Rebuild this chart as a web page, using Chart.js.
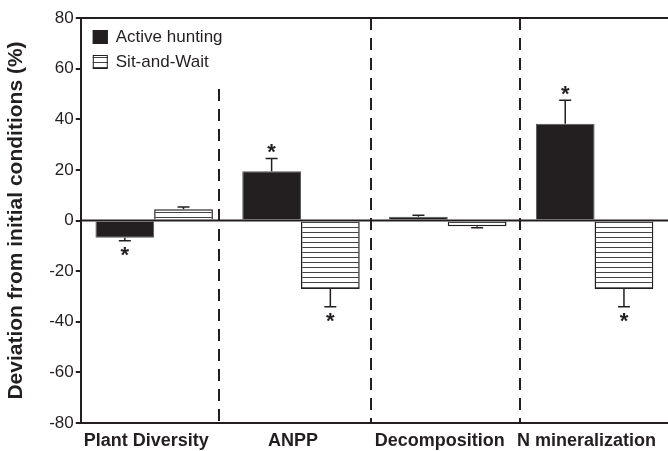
<!DOCTYPE html>
<html>
<head>
<meta charset="utf-8">
<script src="https://cdn.jsdelivr.net/npm/chart.js@4/dist/chart.umd.min.js"></script>
<style>
  body { margin: 0; background: #fff; }
  #wrap { width: 668px; height: 451px; }
</style>
</head>
<body>
<div id="wrap"><canvas id="chart"></canvas></div>
<script>
var categories = ['Plant Diversity', 'ANPP', 'Decomposition', 'N mineralization'];
var activeValues = [-6.8, 19.5, 1.5, 38.2];
var activeErrors = [1.2, 5, 0.6, 9.3];
var activeStars = [true, true, false, true];
var sitValues = [4.4, -27.1, -2.3, -27.1];
var sitErrors = [0.9, 7, 0.6, 7];
var sitStars = [false, true, false, true];
// dashed separators: position on the category axis and the value they start from
var dividerAt = [0.44, 1.48, 2.49];
var dividerTops = [52, 80, 80];
var seriesNames = ['Active hunting', 'Sit-and-Wait'];

var ink = '#231f20';
var font = '"Liberation Sans", Arial, sans-serif';

function hatch() {
  var c = document.createElement('canvas');
  c.width = 8; c.height = 5;
  var g = c.getContext('2d');
  g.fillStyle = '#fff';
  g.fillRect(0, 0, 8, 5);
  g.fillStyle = '#444';
  g.fillRect(0, 2, 8, 1);
  return g.createPattern(c, 'repeat');
}
var hatchFill = hatch();

var extras = {
  id: 'extras',
  beforeDatasetsDraw: function (chart) {
    var ctx = chart.ctx, a = chart.chartArea, x = chart.scales.x, y = chart.scales.y;
    ctx.save();
    ctx.strokeStyle = ink;
    ctx.lineWidth = 2;
    ctx.setLineDash([12, 8]);
    for (var i = 0; i < dividerAt.length; i++) {
      var px = Math.round(x.getPixelForValue(dividerAt[i]));
      ctx.beginPath();
      ctx.moveTo(px, y.getPixelForValue(dividerTops[i]));
      ctx.lineTo(px, a.bottom);
      ctx.stroke();
    }
    ctx.restore();
  },
  afterDatasetsDraw: function (chart) {
    var ctx = chart.ctx, a = chart.chartArea, y = chart.scales.y;
    ctx.save();
    ctx.strokeStyle = ink;
    ctx.lineWidth = 2;
    // top border and zero line
    ctx.beginPath();
    ctx.moveTo(a.left, a.top); ctx.lineTo(a.right, a.top);
    ctx.moveTo(a.left, y.getPixelForValue(0)); ctx.lineTo(a.right, y.getPixelForValue(0));
    ctx.stroke();

    var sets = [[activeValues, activeErrors, activeStars], [sitValues, sitErrors, sitStars]];
    ctx.lineWidth = 1.5;
    ctx.fillStyle = ink;
    ctx.font = 'bold 22px ' + font;
    ctx.textAlign = 'center';
    sets.forEach(function (s, d) {
      var meta = chart.getDatasetMeta(d);
      meta.data.forEach(function (bar, i) {
        var v = s[0][i], e = s[1][i], dir = v >= 0 ? 1 : -1;
        var y0 = y.getPixelForValue(v), y1 = y.getPixelForValue(v + dir * e);
        ctx.beginPath();
        ctx.moveTo(bar.x, y0); ctx.lineTo(bar.x, y1);
        ctx.moveTo(bar.x - 6, y1); ctx.lineTo(bar.x + 6, y1);
        ctx.stroke();
        if (s[2][i]) {
          if (dir > 0) { ctx.textBaseline = 'alphabetic'; ctx.fillText('*', bar.x, y1 + 1); }
          else { ctx.textBaseline = 'top'; ctx.fillText('*', bar.x, y1 + 4); }
        }
      });
    });

    // legend
    ctx.font = '17px ' + font;
    ctx.textAlign = 'left';
    ctx.textBaseline = 'middle';
    ctx.lineWidth = 1;
    chart.data.datasets.forEach(function (ds, i) {
      var bx = a.left + 12, by = a.top + 12 + i * 25;
      ctx.fillStyle = ds.backgroundColor;
      ctx.fillRect(bx, by, 15, 14);
      ctx.strokeStyle = ink;
      ctx.strokeRect(bx + 0.5, by + 0.5, 14, 13);
      ctx.fillStyle = ink;
      ctx.fillText(seriesNames[i], bx + 23, by + 7);
    });
    ctx.restore();
  }
};

new Chart(document.getElementById('chart'), {
  type: 'bar',
  data: {
    labels: categories,
    datasets: [{
      label: seriesNames[0],
      data: activeValues,
      backgroundColor: ink,
      borderColor: '#555',
      borderWidth: 1,
      categoryPercentage: 0.8,
      barPercentage: 1.0
    }, {
      label: seriesNames[1],
      data: sitValues,
      backgroundColor: hatchFill,
      borderColor: ink,
      borderWidth: 1.5,
      categoryPercentage: 0.8,
      barPercentage: 1.0
    }]
  },
  options: {
    responsive: true,
    maintainAspectRatio: false,
    animation: false,
    layout: { padding: { top: 18, right: 0, left: 0, bottom: -1 } },
    plugins: { legend: { display: false }, tooltip: { enabled: false } },
    scales: {
      x: {
        grid: { display: false },
        border: { display: true, color: ink, width: 2 },
        ticks: { color: ink, font: { family: font, size: 18, weight: 'bold', lineHeight: 1 }, maxRotation: 0, autoSkip: false, padding: 1.5, labelOffset: -8 }
      },
      y: {
        min: -80, max: 80,
        grid: { drawOnChartArea: false, drawTicks: true, tickLength: 5, color: ink, lineWidth: 2 },
        border: { display: true, color: ink, width: 2 },
        ticks: { stepSize: 20, color: ink, font: { family: font, size: 17 }, padding: 2 },
        title: { display: true, text: 'Deviation from initial conditions (%)', color: ink, font: { family: font, size: 21, weight: 'bold' }, padding: { top: 4, bottom: 18 } }
      }
    }
  },
  plugins: [extras]
});
</script>
</body>
</html>
